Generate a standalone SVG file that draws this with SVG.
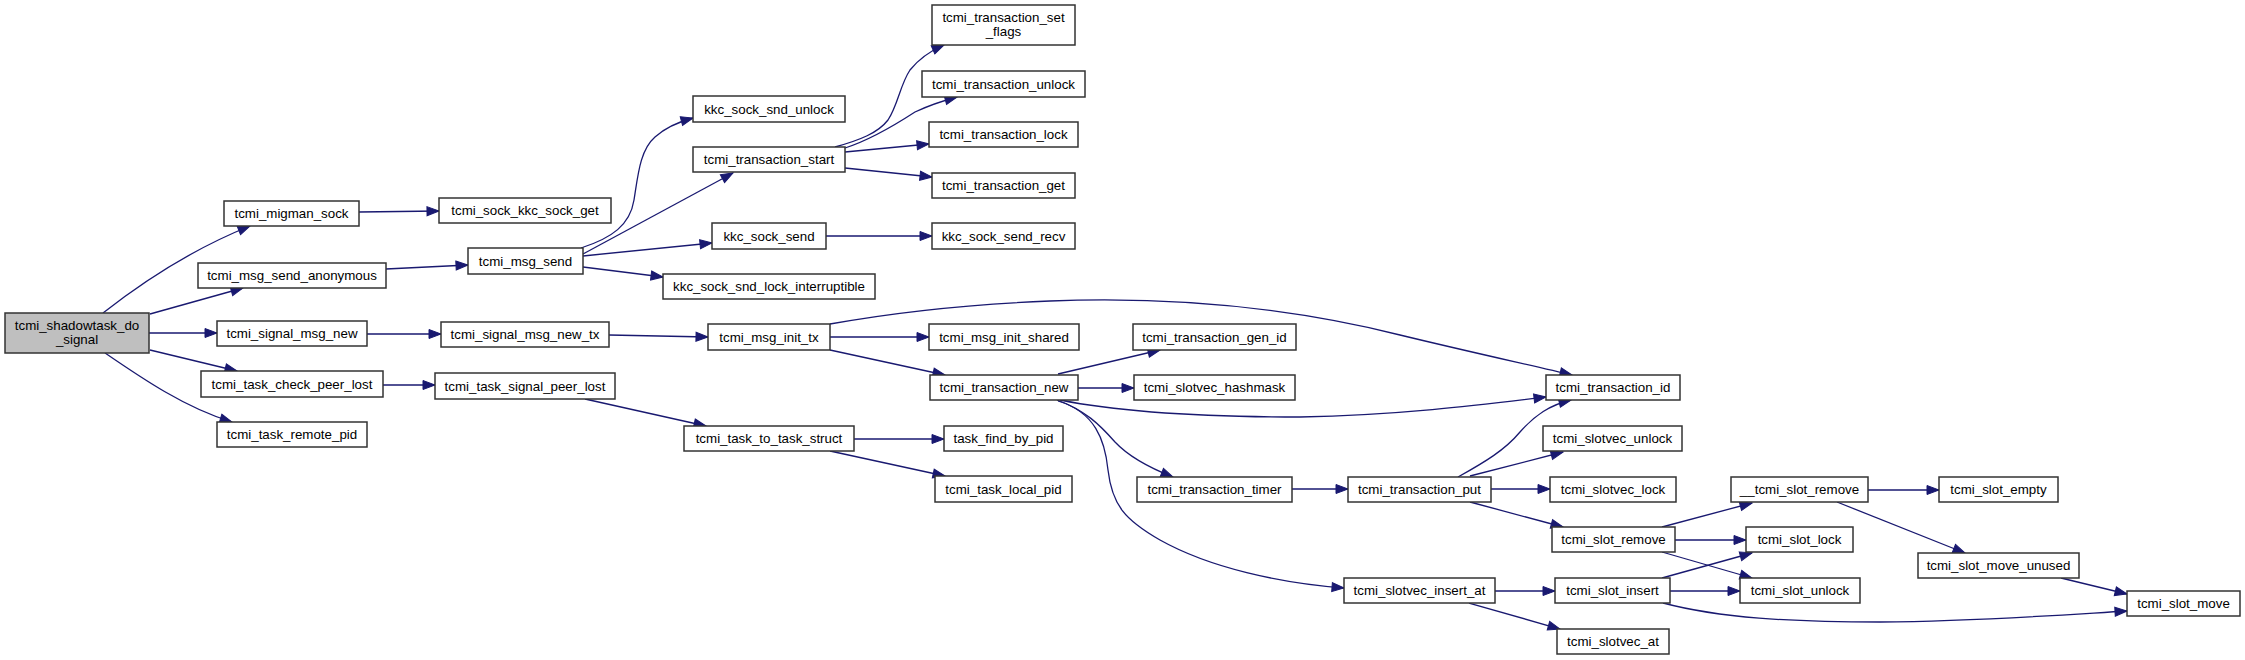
<svg xmlns="http://www.w3.org/2000/svg" width="2245" height="660" viewBox="0 0 2245 660">
<style>
.n rect{fill:#ffffff;stroke:#333333;stroke-width:1.5}
.n.root rect{fill:#bfbfbf}
.n text{font-family:"Liberation Sans",Arial,Helvetica,sans-serif;font-size:13.33px;fill:#000000;text-anchor:middle}
.e path{fill:none;stroke:#191970;stroke-width:1.3;marker-end:url(#ah)}
</style>
<defs>
<marker id="ah" markerUnits="userSpaceOnUse" markerWidth="13" markerHeight="10" refX="12" refY="4.5" orient="auto" overflow="visible">
<path d="M0,0 L12,4.5 L0,9 z" fill="#191970" stroke="#191970" stroke-width="1"/>
</marker>
</defs>
<rect x="0" y="0" width="2245" height="660" fill="#ffffff"/>
<g id="connectors" class="e">
<path d="M103,313 C140,284 190,250 250,226"/>
<path d="M150,314 L243,288"/>
<path d="M149,333 L217,333"/>
<path d="M150,350 L237,371"/>
<path d="M105,353 C140,377 185,408 232,422"/>
<path d="M359,212 L439,211"/>
<path d="M386,269 L468,265"/>
<path d="M367,334 L441,334"/>
<path d="M383,385 L435,385"/>
<path d="M581,248 C612,238 630,225 634,200 C638,175 640,150 655,137 C665,128 678,122 693,118"/>
<path d="M583,254 L733,173"/>
<path d="M583,256 L712,243"/>
<path d="M583,267 L663,277"/>
<path d="M609,335 L708,337"/>
<path d="M585,399 L706,426"/>
<path d="M835,147 C860,140 878,133 888,120 C898,105 900,85 910,70 C918,60 928,52 944,45"/>
<path d="M845,148 C870,140 895,125 915,112 C930,105 942,101 957,97"/>
<path d="M845,152 L929,144"/>
<path d="M845,168 L932,177"/>
<path d="M826,236 L932,236"/>
<path d="M830,337 L929,337"/>
<path d="M830,350 L945,375"/>
<path d="M830,324 C880,315 950,305 1050,301 C1180,296 1300,310 1400,335 C1470,352 1530,365 1572,375"/>
<path d="M854,439 L944,439"/>
<path d="M830,451 L945,476"/>
<path d="M1058,374 L1160,350"/>
<path d="M1078,388 L1134,388"/>
<path d="M1060,400 C1120,412 1200,417 1300,417 C1400,415 1480,405 1546,397"/>
<path d="M1057,400 C1085,410 1100,425 1115,442 C1130,458 1150,468 1173,477"/>
<path d="M1058,401 C1095,412 1105,440 1108,470 C1112,505 1125,520 1160,540 C1210,568 1280,583 1344,588"/>
<path d="M1292,489 L1348,489"/>
<path d="M1458,477 C1485,462 1505,450 1520,432 C1535,415 1550,405 1571,400"/>
<path d="M1470,476 L1563,452"/>
<path d="M1491,489 L1550,489"/>
<path d="M1470,502 L1563,527"/>
<path d="M1495,591 L1555,591"/>
<path d="M1469,603 L1560,629"/>
<path d="M1662,527 L1752,503"/>
<path d="M1675,540 L1746,540"/>
<path d="M1662,552 L1752,578"/>
<path d="M1662,578 L1752,553"/>
<path d="M1670,591 L1740,591"/>
<path d="M1663,603 C1720,618 1790,622 1880,622 C1980,621 2060,615 2127,611"/>
<path d="M1868,490 L1939,490"/>
<path d="M1837,502 L1965,553"/>
<path d="M2061,578 L2127,594"/>
</g>
<g id="tcmi_shadowtask_do_signal" class="n root"><rect x="5" y="313" width="144" height="40"/><text x="77" y="329.5">tcmi_shadowtask_do</text><text x="77" y="343.5">_signal</text></g>
<g id="tcmi_migman_sock" class="n"><rect x="224" y="201" width="135" height="25"/><text x="291.5" y="218">tcmi_migman_sock</text></g>
<g id="tcmi_msg_send_anonymous" class="n"><rect x="198" y="263" width="188" height="25"/><text x="292" y="280">tcmi_msg_send_anonymous</text></g>
<g id="tcmi_signal_msg_new" class="n"><rect x="217" y="321" width="150" height="25"/><text x="292" y="338">tcmi_signal_msg_new</text></g>
<g id="tcmi_task_check_peer_lost" class="n"><rect x="201" y="371" width="182" height="26"/><text x="292" y="388.5">tcmi_task_check_peer_lost</text></g>
<g id="tcmi_task_remote_pid" class="n"><rect x="217" y="422" width="150" height="25"/><text x="292" y="439">tcmi_task_remote_pid</text></g>
<g id="tcmi_sock_kkc_sock_get" class="n"><rect x="439" y="198" width="172" height="25"/><text x="525" y="215">tcmi_sock_kkc_sock_get</text></g>
<g id="tcmi_msg_send" class="n"><rect x="468" y="248" width="115" height="26"/><text x="525.5" y="265.5">tcmi_msg_send</text></g>
<g id="tcmi_signal_msg_new_tx" class="n"><rect x="441" y="322" width="168" height="25"/><text x="525" y="339">tcmi_signal_msg_new_tx</text></g>
<g id="tcmi_task_signal_peer_lost" class="n"><rect x="435" y="373" width="180" height="26"/><text x="525" y="390.5">tcmi_task_signal_peer_lost</text></g>
<g id="kkc_sock_snd_unlock" class="n"><rect x="693" y="96" width="152" height="26"/><text x="769" y="113.5">kkc_sock_snd_unlock</text></g>
<g id="tcmi_transaction_start" class="n"><rect x="693" y="147" width="152" height="25"/><text x="769" y="164">tcmi_transaction_start</text></g>
<g id="kkc_sock_send" class="n"><rect x="712" y="223" width="114" height="26"/><text x="769" y="240.5">kkc_sock_send</text></g>
<g id="kkc_sock_snd_lock_interruptible" class="n"><rect x="663" y="274" width="212" height="25"/><text x="769" y="291">kkc_sock_snd_lock_interruptible</text></g>
<g id="tcmi_msg_init_tx" class="n"><rect x="708" y="324" width="122" height="26"/><text x="769" y="341.5">tcmi_msg_init_tx</text></g>
<g id="tcmi_task_to_task_struct" class="n"><rect x="684" y="426" width="170" height="25"/><text x="769" y="443">tcmi_task_to_task_struct</text></g>
<g id="tcmi_transaction_set_flags" class="n"><rect x="932" y="5" width="143" height="40"/><text x="1003.5" y="21.5">tcmi_transaction_set</text><text x="1003.5" y="35.5">_flags</text></g>
<g id="tcmi_transaction_unlock" class="n"><rect x="922" y="71" width="163" height="26"/><text x="1003.5" y="88.5">tcmi_transaction_unlock</text></g>
<g id="tcmi_transaction_lock" class="n"><rect x="929" y="122" width="149" height="25"/><text x="1003.5" y="139">tcmi_transaction_lock</text></g>
<g id="tcmi_transaction_get" class="n"><rect x="932" y="173" width="143" height="25"/><text x="1003.5" y="190">tcmi_transaction_get</text></g>
<g id="kkc_sock_send_recv" class="n"><rect x="932" y="223" width="143" height="26"/><text x="1003.5" y="240.5">kkc_sock_send_recv</text></g>
<g id="tcmi_msg_init_shared" class="n"><rect x="929" y="324" width="150" height="26"/><text x="1004" y="341.5">tcmi_msg_init_shared</text></g>
<g id="tcmi_transaction_new" class="n"><rect x="930" y="375" width="148" height="25"/><text x="1004" y="392">tcmi_transaction_new</text></g>
<g id="task_find_by_pid" class="n"><rect x="944" y="426" width="119" height="25"/><text x="1003.5" y="443">task_find_by_pid</text></g>
<g id="tcmi_task_local_pid" class="n"><rect x="935" y="476" width="137" height="26"/><text x="1003.5" y="493.5">tcmi_task_local_pid</text></g>
<g id="tcmi_transaction_gen_id" class="n"><rect x="1133" y="324" width="163" height="26"/><text x="1214.5" y="341.5">tcmi_transaction_gen_id</text></g>
<g id="tcmi_slotvec_hashmask" class="n"><rect x="1134" y="375" width="161" height="25"/><text x="1214.5" y="392">tcmi_slotvec_hashmask</text></g>
<g id="tcmi_transaction_timer" class="n"><rect x="1137" y="477" width="155" height="25"/><text x="1214.5" y="494">tcmi_transaction_timer</text></g>
<g id="tcmi_transaction_put" class="n"><rect x="1348" y="477" width="143" height="25"/><text x="1419.5" y="494">tcmi_transaction_put</text></g>
<g id="tcmi_slotvec_insert_at" class="n"><rect x="1344" y="578" width="151" height="25"/><text x="1419.5" y="595">tcmi_slotvec_insert_at</text></g>
<g id="tcmi_transaction_id" class="n"><rect x="1546" y="375" width="134" height="25"/><text x="1613" y="392">tcmi_transaction_id</text></g>
<g id="tcmi_slotvec_unlock" class="n"><rect x="1543" y="426" width="139" height="25"/><text x="1612.5" y="443">tcmi_slotvec_unlock</text></g>
<g id="tcmi_slotvec_lock" class="n"><rect x="1550" y="477" width="126" height="25"/><text x="1613" y="494">tcmi_slotvec_lock</text></g>
<g id="tcmi_slot_remove" class="n"><rect x="1552" y="527" width="123" height="25"/><text x="1613.5" y="544">tcmi_slot_remove</text></g>
<g id="tcmi_slot_insert" class="n"><rect x="1555" y="578" width="115" height="25"/><text x="1612.5" y="595">tcmi_slot_insert</text></g>
<g id="tcmi_slotvec_at" class="n"><rect x="1557" y="629" width="112" height="25"/><text x="1613" y="646">tcmi_slotvec_at</text></g>
<g id="__tcmi_slot_remove" class="n"><rect x="1731" y="477" width="137" height="25"/><text x="1799.5" y="494">__tcmi_slot_remove</text></g>
<g id="tcmi_slot_lock" class="n"><rect x="1746" y="527" width="107" height="25"/><text x="1799.5" y="544">tcmi_slot_lock</text></g>
<g id="tcmi_slot_unlock" class="n"><rect x="1740" y="578" width="120" height="25"/><text x="1800" y="595">tcmi_slot_unlock</text></g>
<g id="tcmi_slot_empty" class="n"><rect x="1939" y="477" width="119" height="25"/><text x="1998.5" y="494">tcmi_slot_empty</text></g>
<g id="tcmi_slot_move_unused" class="n"><rect x="1918" y="553" width="161" height="25"/><text x="1998.5" y="570">tcmi_slot_move_unused</text></g>
<g id="tcmi_slot_move" class="n"><rect x="2127" y="591" width="113" height="25"/><text x="2183.5" y="608">tcmi_slot_move</text></g>
</svg>
